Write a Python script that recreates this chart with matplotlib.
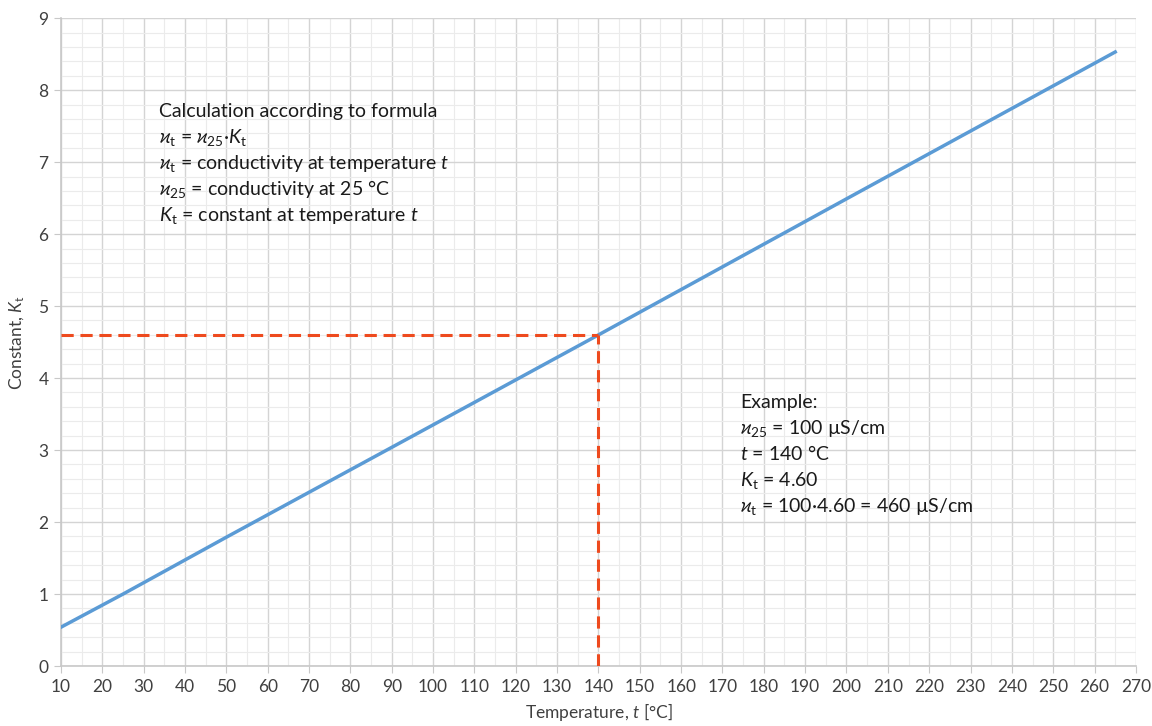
import matplotlib
matplotlib.use("Agg")
import matplotlib.pyplot as plt
from matplotlib.ticker import MultipleLocator

# Data
temperature = [10, 25, 50, 100, 140, 200, 265]
constant_k = [0.54, 1.00, 1.79, 3.35, 4.60, 6.49, 8.53]
example_t = 140
example_k = 4.60

x_ticks = list(range(10, 271, 10))
y_ticks = list(range(0, 10))

plt.rcParams['font.family'] = ['Lato', 'DejaVu Sans']
plt.rcParams['mathtext.fontset'] = 'custom'
plt.rcParams['mathtext.rm'] = 'Lato'
plt.rcParams['mathtext.it'] = 'Lato:italic'
plt.rcParams['mathtext.fallback'] = 'stixsans'

fig = plt.figure(figsize=(11.52, 7.26), dpi=100)
ax = fig.add_axes([0.053, 0.0826, 0.933, 0.8924])

ax.set_xlim(10, 270)
ax.set_ylim(0, 9)
ax.set_xticks(x_ticks)
ax.set_yticks(y_ticks)
ax.xaxis.set_minor_locator(MultipleLocator(5))
ax.yaxis.set_minor_locator(MultipleLocator(0.2))
ax.grid(which='major', color='#d4d4d4', linewidth=1.0)
ax.grid(which='minor', color='#ebebeb', linewidth=0.8)
ax.set_axisbelow(True)

for s in ['top', 'right']:
    ax.spines[s].set_visible(False)
for s in ['left', 'bottom']:
    ax.spines[s].set_color('#c8c8c8')
    ax.spines[s].set_linewidth(1.2)

ax.tick_params(which='major', length=5, color='#c8c8c8', labelsize=12.5,
               labelcolor='#404040', pad=4)
ax.tick_params(which='minor', length=0)

ax.plot(temperature, constant_k, color='#5b9bd5', linewidth=2.5, zorder=3)
ax.plot([10, example_t], [example_k, example_k], color='#ee4a1e',
        linewidth=2.2, dashes=(4, 2.2), zorder=4)
ax.plot([example_t, example_t], [0, example_k], color='#ee4a1e',
        linewidth=2.2, dashes=(4, 2.2), zorder=4)

ax.set_xlabel(r'Temperature, $t$ [°C]', fontsize=12.5, color='#404040', labelpad=5)
ax.set_ylabel(r'Constant, $K_\mathrm{t}$', fontsize=12.5, color='#404040', labelpad=8)

fs = 14
left_lines = [
    'Calculation according to formula',
    r'$\varkappa_\mathrm{t}$ = $\varkappa_{25}$·$K_\mathrm{t}$',
    r'$\varkappa_\mathrm{t}$ = conductivity at temperature $t$',
    r'$\varkappa_{25}$ = conductivity at 25 °C',
    r'$K_\mathrm{t}$ = constant at temperature $t$',
]
y0 = 7.625
for i, line in enumerate(left_lines):
    ax.text(33.7, y0 - i * 0.36, line, fontsize=fs, color='#1a1a1a',
            va='baseline', ha='left', zorder=5)

right_lines = [
    'Example:',
    r'$\varkappa_{25}$ = 100 µS/cm',
    r'$t$ = 140 °C',
    r'$K_\mathrm{t}$ = 4.60',
    r'$\varkappa_\mathrm{t}$ = 100·4.60 = 460 µS/cm',
]
y1 = 3.58
for i, line in enumerate(right_lines):
    ax.text(174.2, y1 - i * 0.36, line, fontsize=fs, color='#1a1a1a',
            va='baseline', ha='left', zorder=5)

fig.savefig('out.png', dpi=100)
